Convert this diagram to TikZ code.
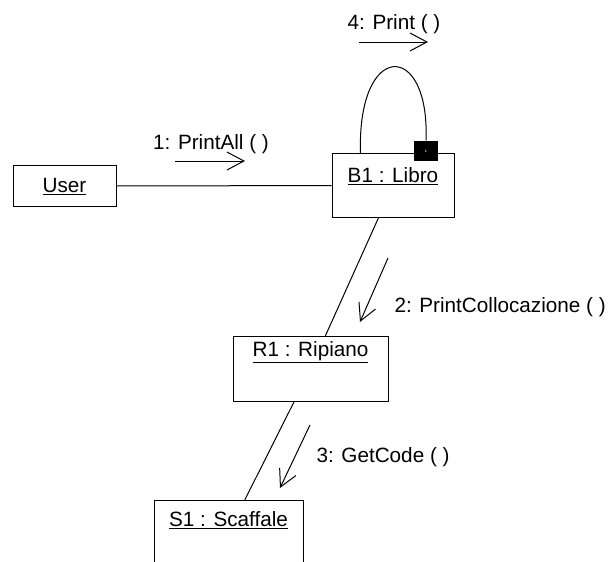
\documentclass[tikz,border=0pt]{standalone}
\usepackage{fontspec}
\setmainfont{Liberation Sans}
\usepackage{tikz}
\usetikzlibrary{arrows.meta}

\begin{document}
\begin{tikzpicture}[x=1pt, y=-1pt, line width=1pt,
    every node/.style={font=\fontsize{20.7}{24}\selectfont},
    obj/.style={draw, anchor=north, inner sep=0pt},
    msg/.style={-{Straight Barb[length=17pt, width=18pt]}}]
    \useasboundingbox (0, 0) rectangle (614, 562);
    \clip (0, 0) rectangle (614, 562);
    % objects
    \node (user) [obj, minimum width=103pt, text height=27pt, text depth=14pt] at (64.5, 165) {\underline{User}};
    \node (b1) [obj, minimum width=122pt, text height=29pt, text depth=35pt] at (393, 153) {\underline{B1 : Libro}};
    \node (r1) [obj, minimum width=155pt, text height=20pt, text depth=45pt] at (310.5, 336) {\underline{R1 : Ripiano}};
    \node (s1) [obj, minimum width=149pt, text height=26pt, text depth=38pt] at (228.5, 500) {\underline{S1 : Scaffale}};
    \node (sq) [fill=black, minimum width=24pt, minimum height=20pt, inner sep=0pt, text=white, font=\fontsize{4}{4}\selectfont] at (426, 151) {L};
    % links
    \draw (user) -- (b1);
    \draw (b1) -- (r1);
    \draw (r1) -- (s1);
    \draw (b1.135) .. controls (357, 40) and (430, 40) .. (sq.north);
    % messages
    \coordinate (m1a) at (175, 161); \coordinate (m1b) at (245, 161);
    \coordinate (m2a) at (388, 258); \coordinate (m2b) at (360, 322);
    \coordinate (m3a) at (310, 425); \coordinate (m3b) at (280, 488);
    \coordinate (m4a) at (359, 42); \coordinate (m4b) at (428, 42);
    \draw[msg] (m1a) -- (m1b);
    \draw[msg] (m2a) -- (m2b);
    \draw[msg] (m3a) -- (m3b);
    \draw[msg] (m4a) -- (m4b);
    \node (l1) [anchor=base] at (211, 149) {1: PrintAll ( )};
    \node (l2) [anchor=base west, inner sep=0pt] at (394, 312) {2: PrintCollocazione ( )};
    \node (l3) [anchor=base west, inner sep=0pt] at (316, 462) {3: GetCode ( )};
    \node (l4) [anchor=base] at (394, 29) {4: Print ( )};
\end{tikzpicture}
\end{document}
